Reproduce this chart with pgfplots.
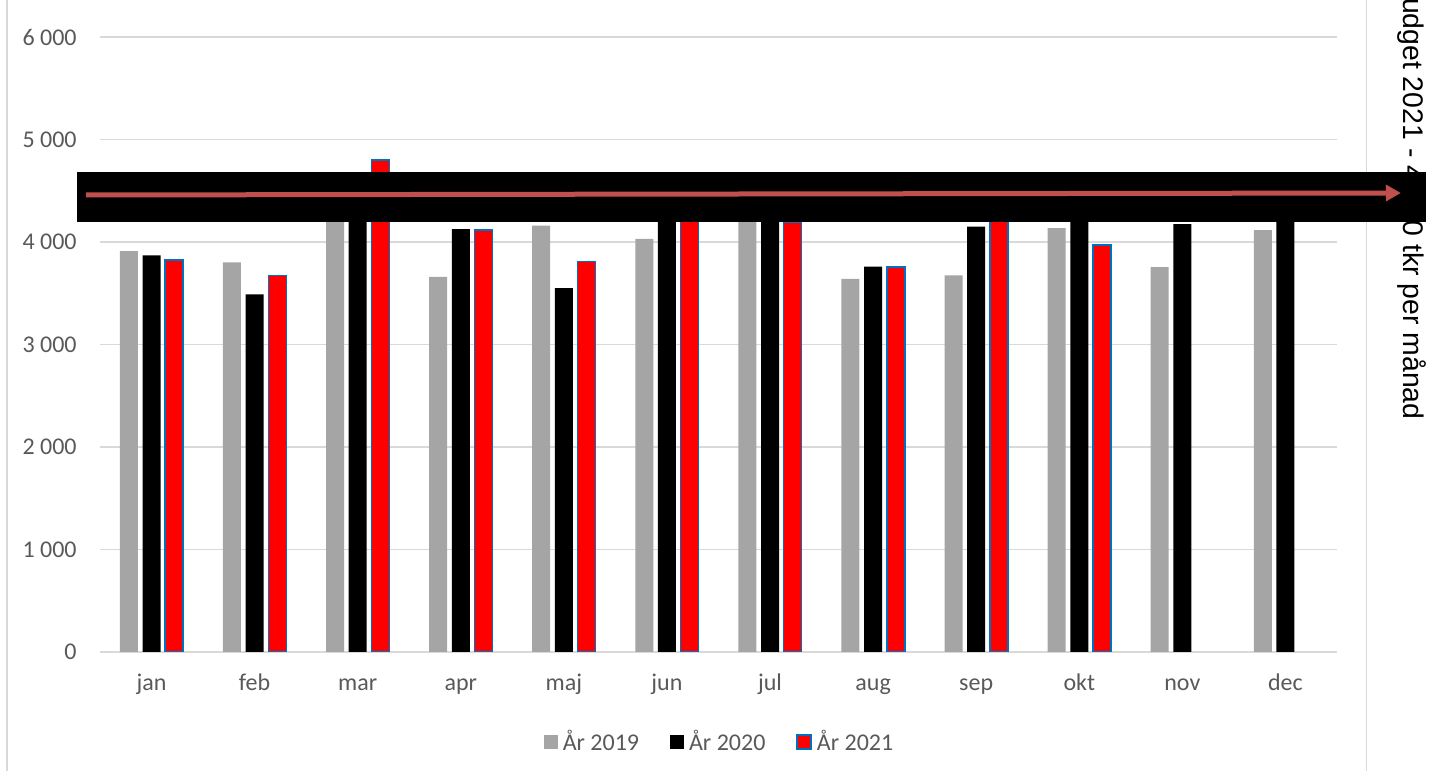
\documentclass[border=0pt]{standalone}
\usepackage{pgfplots}
\pgfplotsset{compat=1.18}
\usepackage{fontspec}
\setmainfont{Carlito}
\newfontfamily\arialfont{Liberation Sans}
\usetikzlibrary{arrows.meta}

\definecolor{barGray}{HTML}{A5A5A5}
\definecolor{gridGray}{HTML}{D9D9D9}
\definecolor{labelGray}{HTML}{595959}
\definecolor{edgeBlue}{HTML}{0070C0}
\definecolor{arrowRed}{HTML}{C0504D}

\begin{document}
\begin{tikzpicture}
% page = 1440x771 px at 0.5pt per px
\path[use as bounding box, clip] (0pt,0pt) rectangle (720pt,385.5pt);
\draw[gridGray, line width=0.75pt] (3.5pt,0pt) -- (3.5pt,385.5pt);
\draw[gridGray, line width=0.75pt] (683.3pt,0pt) -- (683.3pt,385.5pt);

\begin{axis}[
  at={(50pt,59.5pt)}, anchor=south west,
  scale only axis, width=618.5pt, height=307.5pt,
  ymin=0, ymax=6000, xmin=-0.5, xmax=11.5,
  ytick={0,1000,...,6000},
  yticklabels={0,1 000,2 000,3 000,4 000,5 000,6 000},
  xtick={0,...,11},
  xticklabels={jan,feb,mar,apr,maj,jun,jul,aug,sep,okt,nov,dec},
  ybar=2.35pt, bar width=9pt,
  axis line style={draw=none},
  major tick length=0pt,
  ymajorgrids, grid style={gridGray, line width=0.75pt},
  tick label style={font=\fontsize{12}{14}\selectfont, text=labelGray, inner sep=0pt},
  yticklabel style={anchor=east, xshift=-11.5pt},
  xticklabel style={anchor=base, yshift=-19.5pt},
  legend columns=3,
  legend style={at={(0.5,-0.1463)}, anchor=center, draw=none, fill=none,
    inner sep=0pt, font=\fontsize{12}{14}\selectfont, text=labelGray,
    nodes={inner sep=0pt},
    /tikz/every odd column/.append style={column sep=2.5pt},
    /tikz/every even column/.append style={column sep=15.5pt}},
]
% År 2019
\addplot[fill=barGray, draw=none,
  legend image code/.code={\fill[barGray] (0pt,-3.5pt) rectangle (7pt,3.5pt);}]
  coordinates {
  (0,3910) (1,3800) (2,4350) (3,3660) (4,4160) (5,4030)
  (6,4300) (7,3640) (8,3675) (9,4135) (10,3755) (11,4115)};
% År 2020
\addplot[fill=black, draw=none,
  legend image code/.code={\fill[black] (0pt,-3.5pt) rectangle (7pt,3.5pt);}]
  coordinates {
  (0,3870) (1,3490) (2,4450) (3,4125) (4,3550) (5,4400)
  (6,4450) (7,3760) (8,4150) (9,4350) (10,4175) (11,4500)};
% År 2021
\addplot[fill=red, draw=edgeBlue, line width=0.75pt,
  legend image code/.code={\filldraw[fill=red, draw=edgeBlue, line width=0.75pt]
    (0pt,-3.5pt) rectangle (7pt,3.5pt);}]
  coordinates {
  (0,3825) (1,3675) (2,4800) (3,4115) (4,3810) (5,4500)
  (6,4190) (7,3755) (8,4400) (9,3970)};
\legend{År 2019, År 2020, År 2021}
\end{axis}

% budget note on the right, partly covered by the band
\node[rotate=-90, anchor=base east, inner sep=0pt,
      font=\arialfont\fontsize{14.2}{17}\selectfont]
  at (701.5pt,175.5pt) {Budget 2021 - 4 500 tkr per månad};

% black band with the budget arrow
\fill[black] (38.35pt,274.65pt) rectangle (713pt,299.65pt);
\draw[arrowRed, line width=2.5pt, -{Triangle[length=7.5pt,width=8pt]}]
  (43pt,288pt) -- (700.4pt,289pt);
\end{tikzpicture}
\end{document}
